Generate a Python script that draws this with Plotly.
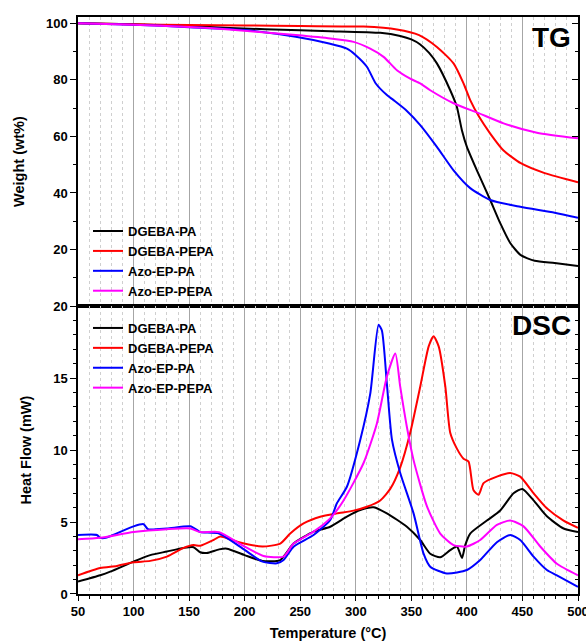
import plotly.graph_objects as go

# ---------------- TG data (Weight %, vs Temperature °C) ----------------
tg_dgeba_pa_T = [50, 100, 150, 187, 250, 277, 322, 340, 350, 358, 366, 373, 385, 391, 395.5, 400, 409, 421, 430, 439, 448.5, 461, 479, 500]
tg_dgeba_pa_W = [100, 99.6, 99.0, 98.3, 97.5, 97.2, 96.6, 95.5, 94.3, 92.5, 89.5, 85.8, 76.3, 70.4, 62.2, 56.3, 48.0, 37.5, 29.3, 22.3, 18.0, 16.0, 15.2, 14.2]

tg_dgeba_pepa_T = [50, 100, 150, 200, 250, 307, 337, 357, 373, 388, 397, 403, 411, 421, 433, 448.5, 470, 500]
tg_dgeba_pepa_W = [100, 99.6, 99.4, 99.2, 99.0, 98.8, 97.8, 95.8, 91.6, 85.8, 78.7, 72.8, 66.9, 61.0, 55.0, 50.5, 47.0, 43.8]

tg_azo_pa_T = [50, 100, 150, 200, 246, 276, 292, 300, 310, 318, 328, 334, 346, 358, 373, 388, 403, 421, 448, 479, 500]
tg_azo_pa_W = [100, 99.5, 98.6, 97.6, 95.2, 92.8, 91.0, 88.7, 84.6, 78.7, 74.6, 72.8, 69.0, 64.0, 56.3, 48.0, 41.7, 37.5, 35.1, 33.0, 31.2]

tg_azo_pepa_T = [50, 100, 150, 186, 246, 277, 298, 313, 325, 337, 349, 358, 367, 388, 410, 433, 463, 500]
tg_azo_pepa_W = [100, 99.5, 98.7, 97.8, 95.8, 94.6, 93.4, 91.0, 88.1, 83.4, 80.4, 78.7, 76.3, 71.7, 68.3, 64.6, 61.3, 59.3]

# ---------------- DSC data (Heat flow mW, vs Temperature °C) ----------------
dsc_dgeba_pa_T = [50, 70, 79, 100, 115, 130, 145, 154, 160, 166, 177, 184, 200, 216, 232, 244, 262, 277, 292, 304, 316, 328, 346, 358, 367, 376, 385, 391, 395.6, 398.5, 403, 418, 430, 442, 450, 460, 472, 487, 500]
dsc_dgeba_pa_H = [0.86, 1.3, 1.55, 2.25, 2.7, 2.95, 3.2, 3.25, 2.9, 2.85, 3.1, 3.15, 2.7, 2.3, 2.36, 3.5, 4.33, 4.67, 5.37, 5.83, 6.02, 5.6, 4.67, 3.75, 2.8, 2.55, 3.05, 3.3, 2.5, 3.4, 4.2, 5.1, 5.8, 7.0, 7.3, 6.5, 5.4, 4.55, 4.3]

dsc_dgeba_pepa_T = [50, 70, 85, 100, 115, 130, 145, 154, 160, 172, 178, 195, 216, 232, 241, 253, 268, 283, 298, 310, 322, 331, 340, 349, 358, 365.6, 370, 374.6, 380.6, 385, 391, 397, 401.5, 406, 410.6, 415, 427, 439, 448, 460, 472, 487, 500]
dsc_dgeba_pepa_H = [1.3, 1.8, 1.95, 2.2, 2.3, 2.6, 3.2, 3.4, 3.35, 3.75, 4.0, 3.6, 3.3, 3.5, 4.2, 4.9, 5.37, 5.6, 5.79, 6.06, 6.5, 7.3, 8.8, 11.2, 14.4, 17.2, 17.9, 17.2, 14.4, 11.2, 10.1, 9.4, 9.2, 7.2, 6.9, 7.7, 8.15, 8.4, 8.15, 7.0, 5.95, 5.1, 4.6]

dsc_azo_pa_T = [50, 67, 70, 75, 100, 109, 113, 130, 151, 157, 160, 177, 200, 216, 229, 235, 244, 262, 277, 283, 292, 304, 313, 320.5, 323.5, 328, 332.6, 340, 352, 361, 367, 382, 400, 412, 427, 439, 448, 460, 472, 481, 500]
dsc_azo_pa_H = [4.1, 4.1, 3.9, 3.9, 4.7, 4.85, 4.5, 4.55, 4.7, 4.45, 4.3, 4.2, 3.06, 2.25, 2.13, 2.36, 3.29, 4.1, 5.14, 6.3, 7.45, 10.7, 13.9, 18.7, 18.3, 14.6, 10.7, 8.4, 5.6, 2.8, 1.9, 1.43, 1.67, 2.36, 3.6, 4.1, 3.75, 2.6, 1.67, 1.3, 0.5]

dsc_azo_pepa_T = [50, 70, 100, 130, 151, 160, 177, 200, 217, 235, 244, 262, 277, 289, 307, 319, 328, 335.6, 340, 346, 352, 364, 376, 388, 400, 412, 427, 439, 451, 466, 481, 500]
dsc_azo_pepa_H = [3.8, 3.9, 4.3, 4.5, 4.55, 4.3, 4.3, 3.29, 2.64, 2.6, 3.5, 4.33, 5.25, 6.5, 9.1, 11.85, 15.1, 16.7, 14.4, 11.6, 9.3, 6.1, 4.2, 3.4, 3.3, 3.75, 4.8, 5.1, 4.7, 3.3, 2.1, 1.3]

series_names = ["DGEBA-PA", "DGEBA-PEPA", "Azo-EP-PA", "Azo-EP-PEPA"]
series_colors = ["#000000", "#ff0000", "#0000ff", "#ff00ff"]

x_tick_vals = [50, 100, 150, 200, 250, 300, 350, 400, 450, 500]
tg_tick_vals = [20, 40, 60, 80, 100]
tg_minor_vals = [10, 30, 50, 70, 90]
dsc_tick_vals = [0, 5, 10, 15, 20]

tg_sets = [(tg_dgeba_pa_T, tg_dgeba_pa_W), (tg_dgeba_pepa_T, tg_dgeba_pepa_W),
           (tg_azo_pa_T, tg_azo_pa_W), (tg_azo_pepa_T, tg_azo_pepa_W)]
dsc_sets = [(dsc_dgeba_pa_T, dsc_dgeba_pa_H), (dsc_dgeba_pepa_T, dsc_dgeba_pepa_H),
            (dsc_azo_pa_T, dsc_azo_pa_H), (dsc_azo_pepa_T, dsc_azo_pepa_H)]

FONT = "Liberation Sans, Arial, sans-serif"
BOLD13 = dict(family=FONT, size=13, color="black", weight="bold")
TITLEF = dict(family=FONT, size=14.5, color="black", weight="bold")

fig = go.Figure()
for (x, y), name, c in zip(tg_sets, series_names, series_colors):
    fig.add_trace(go.Scatter(x=x, y=y, mode="lines", name=name,
                             line=dict(color=c, width=2, shape="spline", smoothing=0.6),
                             xaxis="x", yaxis="y", legend="legend"))
for (x, y), name, c in zip(dsc_sets, series_names, series_colors):
    fig.add_trace(go.Scatter(x=x, y=y, mode="lines", name=name,
                             line=dict(color=c, width=2, shape="spline", smoothing=0.6),
                             xaxis="x2", yaxis="y2", legend="legend2"))

split = 0.499
minor_x = dict(tickmode="linear", tick0=50, dtick=10, showgrid=True, gridcolor="#cfcfcf",
               griddash="dot", gridwidth=1, ticks="outside", ticklen=3, tickcolor="black")
xcommon = dict(range=[50, 500], showline=True, linecolor="black", linewidth=1.5, mirror=True,
               tickmode="array", tickvals=x_tick_vals, showgrid=True, gridcolor="#a6a6a6", gridwidth=1,
               zeroline=False, ticks="outside", ticklen=5, tickcolor="black", tickwidth=1.2,
               tickfont=BOLD13, automargin=False)

fig.update_layout(
    width=586, height=641,
    margin=dict(l=78, r=8, t=17, b=47),
    paper_bgcolor="white", plot_bgcolor="white",
    font=BOLD13,
    xaxis=dict(xcommon, domain=[0, 1], anchor="y", showticklabels=False, ticks="",
               minor=dict(minor_x, ticks="")),
    xaxis2=dict(xcommon, domain=[0, 1], anchor="y2", matches="x", minor=minor_x,
                ticklabeloverflow="allow",
                title=dict(text="Temperature (°C)", standoff=10, font=TITLEF)),
    yaxis=dict(domain=[split, 1], anchor="x", range=[0, 102.2], automargin=False,
               tickvals=tg_tick_vals, showgrid=False, zeroline=False,
               showline=True, linecolor="black", linewidth=1.5, mirror=True,
               ticks="outside", ticklen=6, tickwidth=1.2, tickcolor="black",
               minor=dict(tickvals=tg_minor_vals, ticks="outside", ticklen=3, tickcolor="black"),
               tickfont=BOLD13,
               title=dict(text="Weight (wt%)", standoff=18, font=TITLEF)),
    yaxis2=dict(domain=[0, split], anchor="x2", range=[0, 20], automargin=False,
                tickvals=dsc_tick_vals, showgrid=False, zeroline=False,
                showline=True, linecolor="black", linewidth=1.5, mirror=True,
                ticks="outside", ticklen=6, tickwidth=1.2, tickcolor="black",
                minor=dict(tickmode="linear", tick0=0, dtick=1, ticks="outside", ticklen=3, tickcolor="black"),
                tickfont=BOLD13,
                title=dict(text="Heat Flow (mW)", standoff=18, font=TITLEF)),
    # right-side inward ticks
    yaxis3=dict(overlaying="y", anchor="x", side="right", range=[0, 102.2], automargin=False,
                tickvals=tg_tick_vals, showticklabels=False, showgrid=False, zeroline=False,
                ticks="inside", ticklen=6, tickcolor="black",
                minor=dict(tickvals=tg_minor_vals, ticks="inside", ticklen=3, tickcolor="black")),
    yaxis4=dict(overlaying="y2", anchor="x2", side="right", range=[0, 20], automargin=False,
                tickvals=dsc_tick_vals, showticklabels=False, showgrid=False, zeroline=False,
                ticks="inside", ticklen=6, tickcolor="black",
                minor=dict(tickmode="linear", tick0=0, dtick=1, ticks="inside", ticklen=3, tickcolor="black")),
    legend=dict(x=0.02, y=0.655, xanchor="left", yanchor="top", bgcolor="rgba(0,0,0,0)",
                font=BOLD13, tracegroupgap=0, itemwidth=30),
    legend2=dict(x=0.02, y=0.487, xanchor="left", yanchor="top", bgcolor="rgba(0,0,0,0)",
                 font=BOLD13, tracegroupgap=0, itemwidth=30),
    annotations=[
        dict(text="TG", xref="paper", yref="paper", x=0.99, y=0.965, xanchor="right", yanchor="middle",
             showarrow=False, font=dict(family=FONT, size=28, color="black", weight="bold")),
        dict(text="DSC", xref="paper", yref="paper", x=0.99, y=0.4645, xanchor="right", yanchor="middle",
             showarrow=False, font=dict(family=FONT, size=28, color="black", weight="bold")),
    ],
)

# invisible anchors so the overlay axes render
fig.add_trace(go.Scatter(x=[50], y=[0], xaxis="x", yaxis="y3", mode="markers",
                         marker=dict(opacity=0), showlegend=False, hoverinfo="skip"))
fig.add_trace(go.Scatter(x=[50], y=[0], xaxis="x2", yaxis="y4", mode="markers",
                         marker=dict(opacity=0), showlegend=False, hoverinfo="skip"))

fig.write_html("out.html")
